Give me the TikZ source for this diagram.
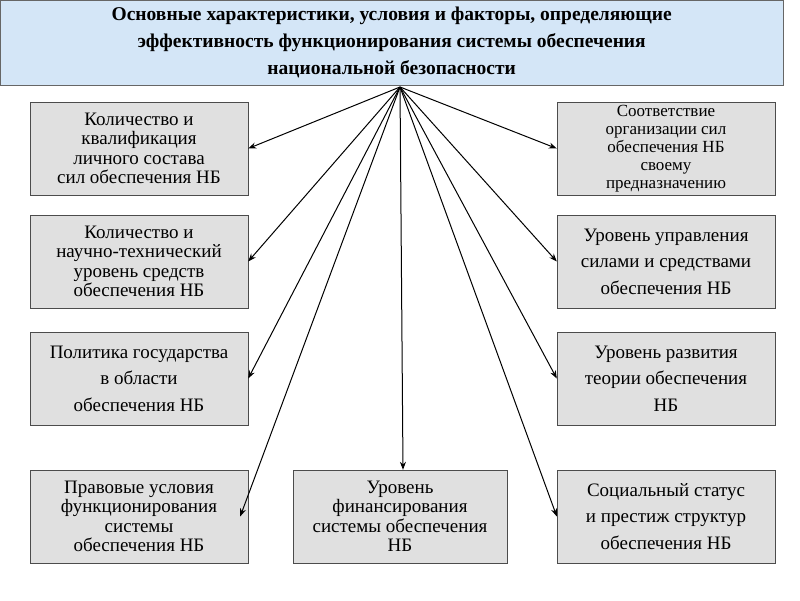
\documentclass[tikz,border=0pt]{standalone}
\usepackage{fontspec}
\setmainfont{Liberation Serif}
\usetikzlibrary{arrows.meta}
\begin{document}
\begin{tikzpicture}[x=1pt,y=-1pt,
  box/.style={draw=black!70,fill=black!12,minimum width=218pt,minimum height=93pt,align=center,font=\fontsize{19}{19.5}\selectfont,inner sep=1pt},
  wide/.style={font=\fontsize{19}{26.5}\selectfont},
  arr/.style={-{Stealth[length=8pt,width=6pt]},line width=1pt}]
\useasboundingbox (0,0) rectangle (800,600);
\fill[white] (0,0) rectangle (800,600);
\node[draw=black!60,fill={rgb,255:red,212;green,230;blue,247},minimum width=783pt,minimum height=85pt,anchor=north west,align=center,font=\bfseries\fontsize{19.5}{27}\selectfont,inner sep=0pt] (h) at (0,0) {Основные характеристики, условия и факторы, определяющие\\эффективность функционирования системы обеспечения\\национальной безопасности};
\coordinate (s) at (400,87);
\node[box] (l1) at (139,148.5) {Количество и\\квалификация\\личного состава\\сил обеспечения НБ};
\node[box] (l2) at (139,261.5) {Количество и\\научно-технический\\уровень средств\\обеспечения НБ};
\node[box,wide] (l3) at (139,378.5) {Политика государства\\в области\\обеспечения НБ};
\node[box] (l4) at (139,516.5) {Правовые условия\\функционирования\\системы\\обеспечения НБ};
\node[box,minimum width=214pt] (c) at (400,516.5) {Уровень\\финансирования\\системы обеспечения\\НБ};
\node[box,font=\fontsize{17}{18}\selectfont] (r1) at (666,148.5) {Соответствие\\организации сил\\обеспечения НБ\\своему\\предназначению};
\node[box,wide] (r2) at (666,261.5) {Уровень управления\\силами и средствами\\обеспечения НБ};
\node[box,wide] (r3) at (666,378.5) {Уровень развития\\теории обеспечения\\НБ};
\node[box,wide] (r4) at (666,516.5) {Социальный статус\\и престиж структур\\обеспечения НБ};
\draw[arr] (s) -- (l1.east);
\draw[arr] (s) -- (l2.east);
\draw[arr] (s) -- (l3.east);
\draw[arr] (s) -- ([xshift=-8pt]l4.east);
\draw[arr] (s) -- ([xshift=3pt]c.north);
\draw[arr] (s) -- (r1.west);
\draw[arr] (s) -- (r2.west);
\draw[arr] (s) -- (r3.west);
\draw[arr] (s) -- (r4.west);
\end{tikzpicture}
\end{document}
